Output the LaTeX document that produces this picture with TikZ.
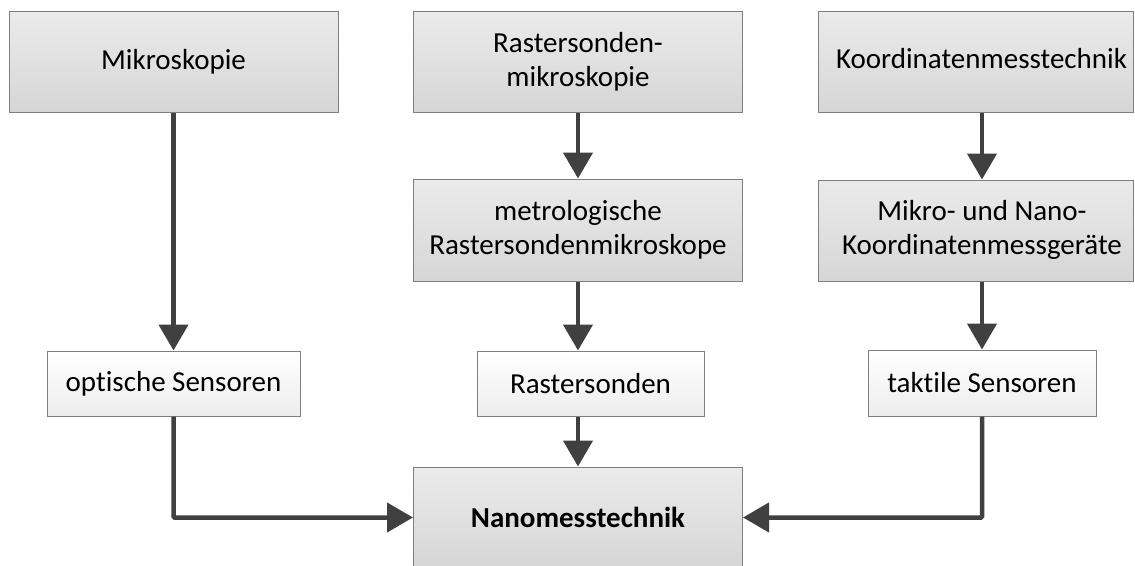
\documentclass[tikz,border=0pt]{standalone}
\usepackage{fontspec}
\setmainfont{Carlito}[Ligatures={NoCommon}]
\usetikzlibrary{arrows.meta,calc}
\definecolor{bordergray}{HTML}{7F7F7F}
\definecolor{arrowgray}{HTML}{404040}
\tikzset{
  graybox/.style={draw=bordergray, line width=1pt, top color=black!8, bottom color=black!16,
    inner sep=0pt, align=center, font=\fontsize{29}{34}\selectfont},
  whitebox/.style={draw=bordergray, line width=1pt, top color=white, bottom color=black!7,
    inner sep=0pt, align=center, font=\fontsize{29}{34}\selectfont},
  conn/.style={draw=arrowgray, line width=4.5pt,
    -{Triangle[width=29pt,length=26pt]}, arrowgray}
}
\begin{document}
\begin{tikzpicture}[x=1pt,y=-1pt]
\useasboundingbox (0,0) rectangle (1135,565);
% top row
\node[graybox, minimum width=329pt, minimum height=101pt] (mik) at (173.5,61.5) {Mikroskopie};
\node[graybox, minimum width=329pt, minimum height=101pt] (rsm) at (578,61.5) {Rastersonden-\\mikroskopie};
\node[graybox, minimum width=315pt, minimum height=101pt] (kmt) at (975.5,61.5) {\begin{tabular}{@{\hspace{12pt}}c@{}}Koordinatenmesstechnik\end{tabular}};
% second row
\node[graybox, minimum width=329pt, minimum height=102pt] (mrs) at (578,230) {metrologische\\Rastersondenmikroskope};
\node[graybox, minimum width=315pt, minimum height=101pt] (mng) at (975.5,230.5) {\begin{tabular}{@{\hspace{13pt}}c@{}}Mikro- und Nano-\\Koordinatenmessger\"ate\end{tabular}};
% third row
\node[whitebox, minimum width=253pt, minimum height=65pt] (ops) at (173.5,383.5) {optische Sensoren};
\node[whitebox, minimum width=227pt, minimum height=65pt] (ras) at (590.5,383.5) {Rastersonden};
\node[whitebox, minimum width=228pt, minimum height=66pt] (tak) at (982,383) {taktile Sensoren};
% bottom
\node[graybox, minimum width=329pt, minimum height=101pt, font=\fontsize{29}{34}\selectfont\bfseries] (nano) at (578,517.5) {Nanomesstechnik};
% connectors
\draw[conn] (mik.south) -- (ops.north);
\draw[conn] (rsm.south) -- (mrs.north);
\draw[conn] ($(kmt.south)+(6.5,0)$) -- ($(mng.north)+(6.5,0)$);
\draw[conn] (mrs.south) -- (mrs.south |- ras.north);
\draw[conn] ($(mng.south)+(6.5,0)$) -- (tak.north);
\draw[conn] (ras.south -| mrs.south) -- (nano.north);
\draw[conn, rounded corners=1pt] (ops.south) |- (nano.west);
\draw[conn, rounded corners=1pt] (tak.south) |- (nano.east);
\end{tikzpicture}
\end{document}
